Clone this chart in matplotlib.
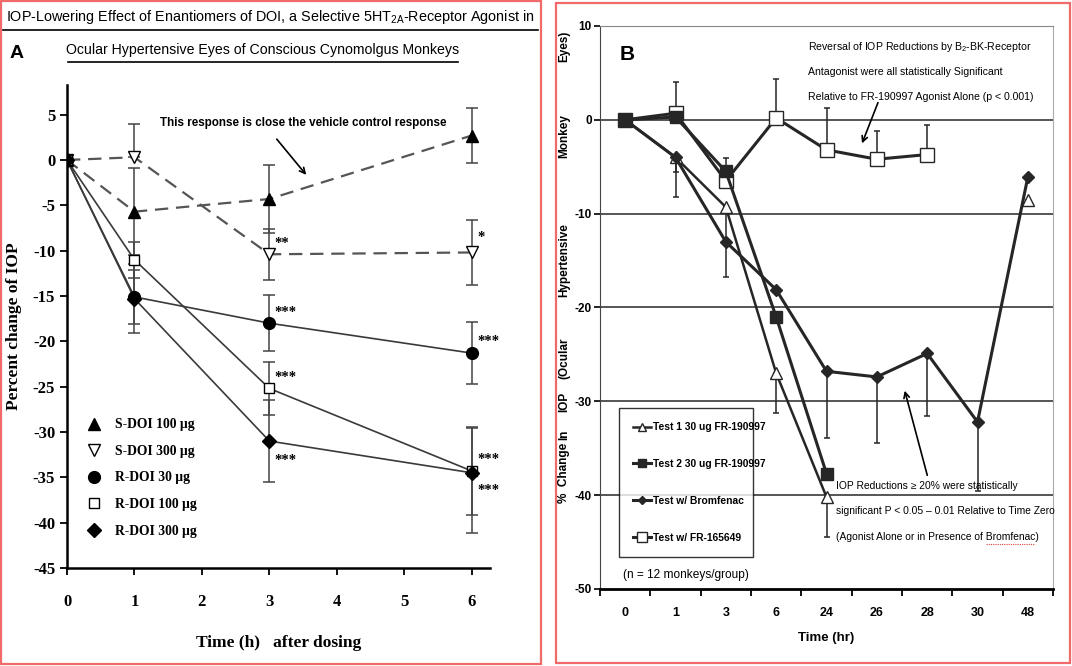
import numpy as np
import matplotlib
matplotlib.use("Agg")
import matplotlib.pyplot as plt
from matplotlib.lines import Line2D
from matplotlib.patches import Rectangle

plt.rcParams['axes.unicode_minus'] = False
plt.rcParams['mathtext.fontset'] = 'custom'
plt.rcParams['mathtext.rm'] = 'Liberation Sans'

SERIF = ['Liberation Serif', 'DejaVu Serif']
SANS = ['Liberation Sans', 'DejaVu Sans']

# ---- panel A data (percent change of IOP) ----
a_time = [0, 1, 3, 6]
s100 = [0, -5.7, -4.3, 2.7]
s100_lo = [0, 4.8, 3.7, 3.0]
s100_hi = [0, 4.8, 3.7, 3.0]
s300 = [0, 0.3, -10.4, -10.2]
s300_lo = [0, 0, 2.8, 3.6]
s300_hi = [0, 3.7, 2.8, 3.6]
r30 = [0, -15.1, -18.0, -21.3]
r30_lo = [0, 3.0, 3.1, 3.4]
r30_hi = [0, 3.0, 3.1, 3.4]
r100 = [0, -11.0, -25.2, -34.3]
r100_lo = [0, 2.0, 2.9, 4.9]
r100_hi = [0, 2.0, 2.9, 4.9]
r300 = [0, -15.3, -31.0, -34.5]
r300_lo = [0, 3.8, 4.5, 6.6]
r300_hi = [0, 3.8, 4.5, 4.9]
labelsA = ['S-DOI 100 \u00b5g', 'S-DOI 300 \u00b5g', 'R-DOI 30 \u00b5g',
           'R-DOI 100 \u00b5g', 'R-DOI 300 \u00b5g']

# significance marks
stars_x = [3, 3, 3, 3, 6, 6, 6, 6]
stars_y = [-9.2, -16.8, -24.0, -33.1, -8.5, -20.0, -33.0, -36.4]
stars_txt = ['**', '***', '***', '***', '*', '***', '***', '***']

# ---- panel B data (% change, categorical time) ----
b_labels = ['0', '1', '3', '6', '24', '26', '28', '30', '48']
nan = np.nan
test1 = [0, -4.0, -9.3, -27.0, -40.2, nan, nan, nan, -8.5]
test1_lo = [0, 4.2, 3.5, 4.2, 4.3, 0, 0, 0, 0]
test2 = [0, 0.3, -5.5, -21.0, -37.7, nan, nan, nan, nan]
test2_hi = [0, 0, 1.4, 0, 0, 0, 0, 0, 0]
brom = [0, -4.0, -13.0, -18.1, -26.8, -27.4, -24.9, -32.2, -6.1]
brom_lo = [0, 1.6, 3.8, 0, 7.1, 7.0, 6.7, 7.4, 0]
fr165649 = [0, 0.7, -6.5, 0.2, -3.2, -4.2, -3.7, nan, nan]
fr_hi = [0, 3.3, 0, 4.1, 4.5, 3.0, 3.2, 0, 0]
labelsB = ['Test 1 30 ug FR-190997', 'Test 2 30 ug FR-190997',
           'Test w/ Bromfenac', 'Test w/ FR-165649']

W, H = 1072, 666
fig = plt.figure(figsize=(W / 100, H / 100), dpi=100)


def fx(px):
    return px / W


def fy(py):
    return 1 - py / H


# red frames round the two panels
fig.add_artist(Rectangle((fx(1), fy(664)), fx(540), 663 / H, fill=False,
                         ec='#f06a6a', lw=1.6, transform=fig.transFigure))
fig.add_artist(Rectangle((fx(556), fy(663)), fx(514), 660 / H, fill=False,
                         ec='#f06a6a', lw=1.6, transform=fig.transFigure))

# ================= panel A =================
axA = fig.add_axes([fx(67), fy(568), fx(490) - fx(67), fy(85) - fy(568)])
axA.set_xlim(0, 6.27)
axA.set_ylim(-45, 8.27)
for s in ['top', 'right']:
    axA.spines[s].set_visible(False)
for s in ['left', 'bottom']:
    axA.spines[s].set_linewidth(1.8)
axA.set_xticks(range(7))
axA.set_yticks(range(-45, 6, 5))
axA.tick_params(direction='out', length=5, width=1.3, labelsize=12)
for lab in axA.get_xticklabels() + axA.get_yticklabels():
    lab.set_family(SERIF)
    lab.set_fontweight('bold')
axA.tick_params(axis='x', pad=14)

dash = dict(color='#555555', lw=1.6, ls=(0, (6, 3.5)))
solid = dict(color='#3a3a3a', lw=1.2, ls='-')
eb = dict(ecolor='#444444', elinewidth=1.1, capsize=4, capthick=1.1, ls='none')

axA.plot(a_time, s100, **dash, zorder=2)
axA.plot(a_time, s300, **dash, zorder=2)
axA.plot(a_time, r30, **solid, zorder=2)
axA.plot(a_time, r100, **solid, zorder=2)
axA.plot(a_time, r300, **solid, zorder=2)

for y, lo, hi in [(s100, s100_lo, s100_hi), (s300, s300_lo, s300_hi),
                  (r30, r30_lo, r30_hi), (r100, r100_lo, r100_hi),
                  (r300, r300_lo, r300_hi)]:
    lo_ = np.array(lo, float)
    hi_ = np.array(hi, float)
    axA.errorbar(a_time[1:], y[1:], yerr=[lo_[1:], hi_[1:]], **eb, zorder=1)

mk = dict(ls='none', mec='black', mew=1.0, zorder=3)
axA.plot(a_time, s100, marker='^', ms=8, mfc='black', **mk)
axA.plot(a_time, s300, marker='v', ms=8, mfc='white', **mk)
axA.plot(a_time, r30, marker='o', ms=8.5, mfc='black', **mk)
axA.plot(a_time, r100, marker='s', ms=7.5, mfc='white', **mk)
axA.plot(a_time, r300, marker='D', ms=7, mfc='black', **mk)

for x, y, t in zip(stars_x, stars_y, stars_txt):
    axA.text(x + 0.08, y, t, family=SERIF, fontweight='bold', fontsize=10.5,
             ha='left', va='center')

handlesA = [
    Line2D([], [], ls='none', marker='^', ms=8, mfc='black', mec='black'),
    Line2D([], [], ls='none', marker='v', ms=8, mfc='white', mec='black'),
    Line2D([], [], ls='none', marker='o', ms=8.5, mfc='black', mec='black'),
    Line2D([], [], ls='none', marker='s', ms=7.5, mfc='white', mec='black'),
    Line2D([], [], ls='none', marker='D', ms=7, mfc='black', mec='black'),
]
axA.legend(handlesA, labelsA, loc='upper left', bbox_to_anchor=(0.047, 0.31),
           borderaxespad=0, borderpad=0, frameon=False,
           prop=dict(family=SERIF, weight='bold', size=9.8),
           handletextpad=1.1, labelspacing=1.0, handlelength=1.0)

axA.set_ylabel('Percent change of IOP', family=SERIF, fontweight='bold',
               fontsize=12.5, labelpad=8)
axA.set_xlabel('Time (h)   after dosing', family=SERIF, fontweight='bold',
               fontsize=12.5, labelpad=18)

axA.annotate('', xy=(308, H - 177), xytext=(275, H - 137),
             xycoords='figure pixels', textcoords='figure pixels',
             arrowprops=dict(arrowstyle='->', lw=1.2, color='black'))
fig.text(fx(303), fy(123), 'This response is close the vehicle control response',
         family=SANS, fontsize=8.4, fontweight='bold', ha='center', va='center')

# titles (underlined)
fig.text(fx(270), fy(17),
         'IOP-Lowering Effect of Enantiomers of DOI, a Selective 5HT$_{\\mathrm{2A}}$-Receptor Agonist in',
         family=SANS, fontsize=10.35, ha='center', va='center')
fig.text(fx(263), fy(50), 'Ocular Hypertensive Eyes of Conscious Cynomolgus Monkeys',
         family=SANS, fontsize=10.2, ha='center', va='center')
fig.add_artist(Line2D([fx(3), fx(538)], [fy(30), fy(30)], color='black', lw=1.2))
fig.add_artist(Line2D([fx(68), fx(458)], [fy(62), fy(62)], color='black', lw=1.2))
fig.text(fx(10), fy(53), 'A', family=SANS, fontweight='bold', fontsize=14,
         ha='left', va='center')

# ================= panel B =================
axB = fig.add_axes([fx(600), fy(589), fx(1053) - fx(600), fy(26) - fy(589)])
xb = np.arange(len(b_labels))
axB.set_xlim(-0.5, len(b_labels) - 0.5)
axB.set_ylim(-50, 10)
axB.set_yticks(range(-50, 11, 10))
axB.set_xticks(xb)
axB.set_xticklabels(b_labels)
axB.set_xticks(np.arange(-0.5, len(b_labels)), minor=True)
axB.tick_params(axis='x', which='major', length=0, pad=13)
axB.tick_params(axis='x', which='minor', length=5, width=1.3, direction='out')
axB.tick_params(axis='y', length=4, width=1.2, direction='out', pad=2)
for lab in axB.get_xticklabels():
    lab.set_family(SANS)
    lab.set_fontweight('bold')
    lab.set_fontsize(9)
for lab in axB.get_yticklabels():
    lab.set_family(SANS)
    lab.set_fontweight('bold')
    lab.set_fontsize(8.5)
axB.spines['left'].set_color('#444444')
axB.spines['bottom'].set_linewidth(2.0)
axB.spines['top'].set_color('#888888')
axB.spines['right'].set_color('#aaaaaa')
for yv in range(-40, 11, 10):
    axB.axhline(yv, color='#555555', lw=1.4, zorder=0)

lc = '#262626'
ebB = dict(ls='none', ecolor=lc, elinewidth=1.1, capsize=2, capthick=1.1, zorder=1)
z = np.zeros(len(b_labels))
axB.errorbar(xb, test1, yerr=[test1_lo, z], **ebB)
axB.errorbar(xb, test2, yerr=[z, test2_hi], **ebB)
axB.errorbar(xb, brom, yerr=[brom_lo, z], **ebB)
axB.errorbar(xb, fr165649, yerr=[z, fr_hi], **ebB)

l1, = axB.plot(xb, test1, color=lc, lw=1.8, marker='^', ms=9, mfc='white',
               mec=lc, mew=1.0, zorder=3, label=labelsB[0])
l2, = axB.plot(xb, test2, color=lc, lw=2.2, marker='s', ms=9, mfc=lc,
               mec=lc, zorder=3, label=labelsB[1])
l3, = axB.plot(xb, brom, color=lc, lw=2.2, marker='D', ms=6.5, mfc=lc,
               mec=lc, zorder=3, label=labelsB[2])
l4, = axB.plot(xb, fr165649, color=lc, lw=2.2, marker='s', ms=10, mfc='white',
               mec=lc, mew=1.0, zorder=2, label=labelsB[3])

legB = axB.legend(handles=[l1, l2, l3, l4], loc='lower left',
                  bbox_to_anchor=(0.042, 0.057, 0.296, 0.259), mode='expand',
                  borderaxespad=0,
                  prop=dict(family=SANS, weight='bold', size=7.4),
                  frameon=True, fancybox=False, edgecolor='black',
                  labelspacing=2.6, handlelength=1.7, handletextpad=0.25,
                  borderpad=1.4, markerscale=0.7)
legB.get_frame().set_linewidth(1.0)

fig.text(fx(686), fy(575), '(n = 12 monkeys/group)', family=SANS,
         fontsize=8.6, ha='center', va='center')

axB.set_xlabel('Time (hr)', family=SANS, fontweight='bold', fontsize=9.5,
               labelpad=9)

# y label of panel B, word by word as spaced in the reference
ylab_words = ['%  Change', 'In', 'IOP', '(Ocular', 'Hypertensive', 'Monkey', 'Eyes)']
ylab_pos = [473, 435, 402, 358, 260, 136, 46]
for wd, yp in zip(ylab_words, ylab_pos):
    fig.text(fx(564), fy(yp), wd, family=SANS, fontweight='bold', fontsize=8.5,
             rotation=90, ha='center', va='center')

fig.text(fx(620), fy(55), 'B', family=SANS, fontweight='bold', fontsize=15,
         ha='left', va='center')

top_note = ['Reversal of IOP Reductions by B$_{\\mathrm{2}}$-BK-Receptor',
            'Antagonist were all statistically Significant',
            'Relative to FR-190997 Agonist Alone (p < 0.001)']
for i, t in enumerate(top_note):
    fig.text(fx(808), fy(47 + 25 * i), t, family=SANS, fontsize=7.6,
             ha='left', va='center')
axB.annotate('', xy=(861, H - 146), xytext=(879, H - 100),
             xycoords='figure pixels', textcoords='figure pixels',
             arrowprops=dict(arrowstyle='->', lw=1.2, color='black'))

bot_note = ['IOP Reductions \u2265 20% were statistically',
            'significant P < 0.05 \u2013 0.01 Relative to Time Zero',
            '(Agonist Alone or in Presence of Bromfenac)']
for i, t in enumerate(bot_note):
    fig.text(fx(836), fy(486 + 25.5 * i), t, family=SANS, fontsize=7.4,
             ha='left', va='center')
axB.annotate('', xy=(904, H - 388), xytext=(928, H - 478),
             xycoords='figure pixels', textcoords='figure pixels',
             arrowprops=dict(arrowstyle='->', lw=1.2, color='black'))

# spell-check style red underline under "Bromfenac"
rend = fig.canvas.get_renderer()
pre = fig.text(0, 0, '(Agonist Alone or in Presence of ', family=SANS, fontsize=7.4)
word = fig.text(0, 0, 'Bromfenac', family=SANS, fontsize=7.4)
x0 = 836 + pre.get_window_extent(rend).width
x1 = x0 + word.get_window_extent(rend).width
pre.remove()
word.remove()
fig.add_artist(Line2D([fx(x0), fx(x1)], [fy(544), fy(544)], color='#e04040',
                      lw=0.8, ls=(0, (1, 1))))

fig.savefig('out.png', dpi=100)
